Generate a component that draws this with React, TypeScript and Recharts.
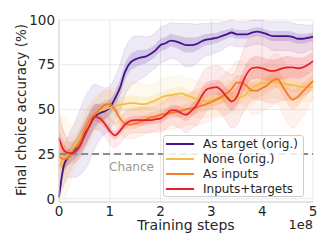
import {
  ComposedChart,
  Area,
  Line,
  XAxis,
  YAxis,
  CartesianGrid,
  ReferenceLine,
} from "recharts"

// training steps, in units of 1e8
const steps = [
  0, 0.1, 0.2, 0.3, 0.4, 0.5, 0.6, 0.7, 0.8, 0.9, 1, 1.1, 1.2, 1.3, 1.4, 1.5, 1.6,
  1.7, 1.8, 1.9, 2, 2.1, 2.2, 2.3, 2.4, 2.5, 2.6, 2.7, 2.8, 2.9, 3, 3.1, 3.2, 3.3,
  3.4, 3.5, 3.6, 3.7, 3.8, 3.9, 4, 4.1, 4.2, 4.3, 4.4, 4.5, 4.6, 4.7, 4.8, 4.9, 5,
]

const asTarget = [
  1, 19, 24, 27, 31, 36, 41, 46, 48, 49, 51, 56, 62, 71, 76, 78, 79, 79.5, 81, 83,
  86, 87, 88.5, 88, 87, 86, 86, 86.5, 88, 89, 89.5, 90, 91, 92, 93, 92, 92, 92, 93,
  93.5, 93, 92, 91, 91, 91, 91, 90.5, 89.5, 89.5, 90, 90.5,
]
const asTargetSpread = [
  8, 10, 12, 15, 18, 20, 20, 18, 15, 13, 12, 12, 13, 13, 13, 13, 12, 11, 10, 10,
  10, 10, 10, 10, 11, 12, 12, 11, 10, 9, 9, 8, 8, 7, 7, 7, 7, 7, 7, 7, 7, 7, 8, 8,
  8, 8, 8, 8, 8, 7, 7,
]

const none = [
  18, 22, 25, 29, 34, 38, 42, 47, 49, 50, 51, 52, 52.5, 53, 53.5, 53.5, 53, 53, 54,
  55, 56.5, 57.5, 58, 58.5, 59, 58, 57, 56, 55, 54.5, 55, 56, 56, 56.5, 57, 56.5,
  57, 59, 62, 63.5, 64.5, 65, 65.5, 65, 64.5, 64, 63.5, 63, 62.5, 62.5, 62.5,
]
const noneSpread = [
  28, 25, 18, 12, 12, 12, 11, 10, 10, 10, 10, 10, 11, 12, 12, 12, 12, 11, 10, 10,
  10, 10, 10, 10, 10, 10, 10, 10, 10, 9, 9, 9, 9, 9, 9, 9, 9, 9, 9, 9, 9, 9, 9, 9,
  9, 9, 9, 9, 8, 8, 8,
]

const asInputs = [
  24, 22, 24, 28, 31, 38, 44, 47, 50, 52.5, 53, 50, 45, 42, 41.5, 42, 43, 44, 45.5,
  46, 47, 47.5, 48, 48.5, 49, 50, 50.5, 51, 52, 53, 54, 55.5, 57, 59, 61.5, 65, 65,
  63, 60.5, 60.5, 62, 63.5, 66, 67, 63, 58.5, 55.5, 57, 60, 63, 66,
]
const asInputsSpread = [
  20, 15, 10, 8, 8, 8, 8, 8, 8, 8, 8, 8, 8, 8, 8, 8, 8, 8, 8, 8, 8, 9, 9, 9, 9, 9,
  9, 10, 10, 10, 10, 10, 11, 12, 12, 12, 12, 12, 13, 13, 13, 13, 14, 14, 15, 16,
  16, 15, 14, 12, 10,
]

const inputsTargets = [
  34, 27, 25.5, 26, 29, 35, 41, 46, 45, 42, 38, 35.5, 38, 41.5, 43.5, 44, 44, 44,
  44, 44.5, 45, 47, 49.5, 49.5, 48, 47, 49, 52, 57, 61, 62, 62.5, 60.5, 57, 54.5,
  57, 64, 70, 73, 73.5, 73, 72, 71.5, 72, 73, 73.5, 73.5, 73, 73.5, 75, 77,
]
const inputsTargetsSpread = [
  15, 10, 6, 6, 6, 7, 7, 7, 7, 7, 7, 7, 7, 7, 7, 7, 7, 7, 7, 7, 8, 8, 8, 9, 9, 10,
  10, 11, 12, 12, 12, 12, 13, 14, 15, 16, 17, 18, 18, 18, 18, 18, 18, 18, 18, 18,
  17, 17, 16, 16, 15,
]

const xTicks = [0, 1, 2, 3, 4, 5]
const yTicks = [0, 25, 50, 75, 100]

const series = [
  { key: "target", name: "As target (orig.)", values: asTarget, spread: asTargetSpread, color: "#46128f" },
  { key: "none", name: "None (orig.)", values: none, spread: noneSpread, color: "#f6bd45" },
  { key: "inputs", name: "As inputs", values: asInputs, spread: asInputsSpread, color: "#f47a2c" },
  { key: "both", name: "Inputs+targets", values: inputsTargets, spread: inputsTargetsSpread, color: "#e5222a" },
]

const data = steps.map((t, i) => {
  const row: Record<string, number | number[]> = { t }
  series.forEach((s) => {
    const v = s.values[i]
    const w = s.spread[i]
    row[s.key] = v
    row[s.key + "Outer"] = [Math.max(0, v - w), Math.min(100, v + w)]
    row[s.key + "Inner"] = [v - w * 0.35, v + w * 0.35]
  })
  return row
})

const font = "DejaVu Sans, sans-serif"

function LegendBox() {
  return (
    <div
      style={{
        position: "absolute",
        left: 163,
        top: 135,
        width: 139,
        height: 60,
        border: "1px solid #cccccc",
        borderRadius: 3,
        background: "rgba(255,255,255,0.85)",
        fontFamily: font,
        fontSize: 12,
        color: "#262626",
        boxSizing: "content-box",
      }}
    >
      {series.map((s) => (
        <div key={s.key} style={{ display: "flex", alignItems: "center", height: 15 }}>
          <div style={{ width: 28, height: 2, background: s.color, marginLeft: 2, marginRight: 9 }} />
          <span style={{ whiteSpace: "nowrap" }}>{s.name}</span>
        </div>
      ))}
    </div>
  )
}

export default function App() {
  return (
    <div style={{ position: "fixed", left: 0, top: 0, width: 332, height: 249, background: "#fff" }}>
      <ComposedChart
        width={332}
        height={249}
        data={data}
        margin={{ top: 20, right: 19, bottom: 0, left: 0 }}
      >
        <CartesianGrid stroke="#ebebeb" strokeWidth={1} />
        <XAxis
          dataKey="t"
          type="number"
          domain={[0, 5]}
          ticks={xTicks}
          height={47}
          tickLine={false}
          tickSize={0}
          tickMargin={4}
          axisLine={{ stroke: "#d5d5d5" }}
          tick={{ fontSize: 13.5, fill: "#262626", fontFamily: font }}
        />
        <YAxis
          type="number"
          domain={[0, 100]}
          ticks={yTicks}
          width={59}
          tickLine={false}
          tickSize={0}
          tickMargin={4}
          axisLine={{ stroke: "#d5d5d5" }}
          tick={{ fontSize: 13.5, fill: "#262626", fontFamily: font }}
        />
        {series.map((s) => (
          <Area
            key={s.key + "Outer"}
            dataKey={s.key + "Outer"}
            type="monotone"
            fill={s.color}
            fillOpacity={0.09}
            stroke={s.color}
            strokeOpacity={0.1}
            isAnimationActive={false}
            activeDot={false}
          />
        ))}
        {series.map((s) => (
          <Area
            key={s.key + "Inner"}
            dataKey={s.key + "Inner"}
            type="monotone"
            fill={s.color}
            fillOpacity={0.16}
            stroke="none"
            isAnimationActive={false}
            activeDot={false}
          />
        ))}
        <ReferenceLine
          y={25}
          stroke="#8c8c8c"
          strokeWidth={2}
          strokeDasharray="7 4"
          label={({ viewBox }: any) => (
            <text x={viewBox.x + 50} y={viewBox.y + 17} fill="#999999" fontSize={12} fontFamily={font}>
              Chance
            </text>
          )}
        />
        {series.map((s) => (
          <Line
            key={s.key}
            dataKey={s.key}
            type="monotone"
            stroke={s.color}
            strokeWidth={1.8}
            dot={false}
            isAnimationActive={false}
          />
        ))}
      </ComposedChart>
      <LegendBox />
      <svg width={332} height={249} style={{ position: "absolute", left: 0, top: 0, pointerEvents: "none" }}>
        <text
          x={26}
          y={110}
          transform="rotate(-90 26 110)"
          textAnchor="middle"
          fontSize={13.5}
          fontFamily={font}
          fill="#262626"
        >
          Final choice accuracy (%)
        </text>
        <text x={186} y={230} textAnchor="middle" fontSize={14} fontFamily={font} fill="#262626">
          Training steps
        </text>
        <text x={313} y={229} textAnchor="end" fontSize={13} fontFamily={font} fill="#262626">
          1e8
        </text>
      </svg>
    </div>
  )
}
